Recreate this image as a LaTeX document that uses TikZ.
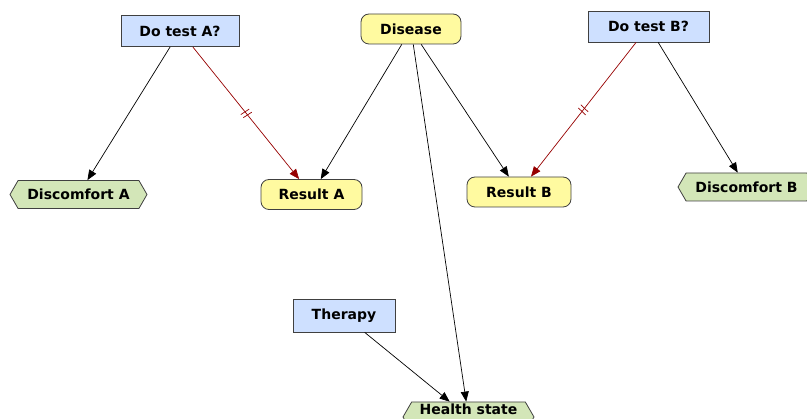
\documentclass[tikz,border=0pt]{standalone}
\usepackage{fontspec}
\setmainfont{DejaVu Sans}
\usetikzlibrary{arrows.meta,shapes.symbols,decorations.markings}
\definecolor{boxblue}{RGB}{206,224,255}
\definecolor{boxyellow}{RGB}{255,250,160}
\definecolor{boxgreen}{RGB}{211,230,184}
\definecolor{edgegray}{RGB}{64,64,64}
\definecolor{tickred}{RGB}{150,0,0}
\tikzset{
  lbl/.style={font=\fontsize{14}{16}\selectfont\bfseries, inner sep=0pt, draw=edgegray, line width=0.8pt},
  decisionbox/.style={lbl, rectangle, fill=boxblue, minimum width=#1, minimum height=31pt},
  chancebox/.style={lbl, rectangle, rounded corners=8pt, fill=boxyellow, minimum width=#1, minimum height=30pt},
  utilbox/.style={lbl, signal, signal to=west and east, signal pointer angle=120, fill=boxgreen, minimum width=#1, minimum height=28pt},
  link/.style={draw=black, line width=0.7pt, -{Triangle[length=10pt,width=8pt]}},
  infolink/.style={draw=tickred, line width=0.7pt, -{Triangle[length=10pt,width=8pt]},
    postaction={decorate, decoration={markings, mark=at position 0.5 with {
      \draw[-, tickred, line width=0.7pt] (-2pt,-5pt) -- (-1pt,5pt) (2pt,-5pt) -- (3pt,5pt);}}}}
}
\begin{document}
\begin{tikzpicture}[x=1pt,y=-1pt]
\useasboundingbox (0,0) rectangle (807,419);
\clip (0,0) rectangle (807,419);
\node[decisionbox=118pt] (testA) at (180,31) {Do test A?};
\node[chancebox=100pt] (disease) at (411,29) {Disease};
\node[decisionbox=121pt] (testB) at (648.5,26.5) {Do test B?};
\node[chancebox=101pt] (resA) at (311.5,194.5) {Result A};
\node[chancebox=104pt] (resB) at (519,192) {Result B};
\node[utilbox=137pt] (discA) at (78.5,194.5) {Discomfort A\hspace{6pt}};
\node[utilbox=137pt] (discB) at (746.5,187) {Discomfort B\hspace{6pt}};
\node[decisionbox=102pt, minimum height=33pt] (therapy) at (344,315.5) {Therapy};
\node[utilbox=131pt, minimum height=0pt, text height=13pt, text depth=17pt] (health) at (468.5,417) {Health state};
\draw[link] (testA) -- (discA);
\draw[infolink] (testA) -- (resA);
\draw[link] (disease) -- (resA);
\draw[link] (disease) -- (resB);
\draw[link] (disease) -- (health);
\draw[infolink] (testB) -- (resB);
\draw[link] (testB) -- (discB);
\draw[link] (therapy) -- (health);
\end{tikzpicture}
\end{document}
